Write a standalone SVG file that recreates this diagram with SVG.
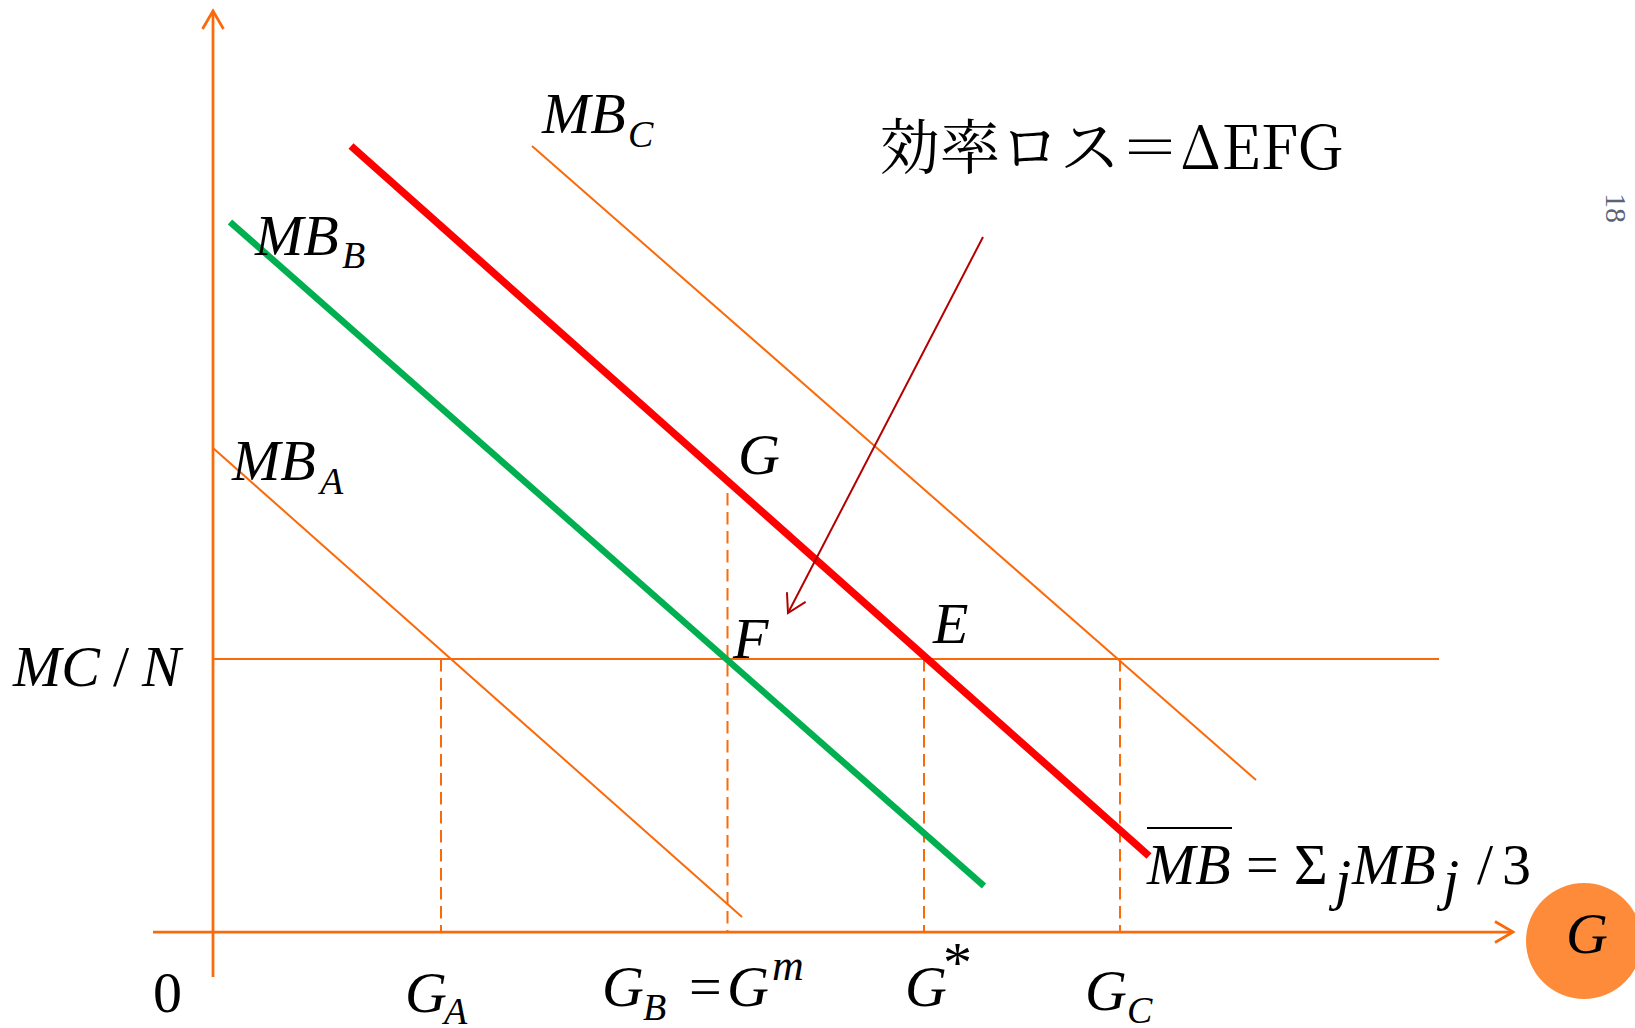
<svg xmlns="http://www.w3.org/2000/svg" width="1635" height="1028" viewBox="0 0 1635 1028">
<style>
.ax{stroke:#FA6A0A;stroke-width:2.75;fill:none}
.thin{stroke:#FA6A0A;stroke-width:2;fill:none}
.dash{stroke:#FA6A0A;stroke-width:2;stroke-dasharray:12.5 6.5;fill:none}
.m{font-family:"Liberation Serif","Times New Roman",serif;font-style:italic;font-size:58px;fill:#000}
.u{font-family:"Liberation Serif","Times New Roman",serif;font-style:normal;font-size:58px;fill:#000}
.s{font-size:38px}
.jp{font-family:"Noto Serif CJK JP","Noto Sans CJK JP",serif;font-size:60px;fill:#000}
</style>
<defs>
<marker id="oa" markerUnits="userSpaceOnUse" markerWidth="30" markerHeight="30" viewBox="-22 -15 30 30" refX="0" refY="0" orient="auto">
<path d="M-18,-10.5 L0,0 L-18,10.5" fill="none" stroke="#FA6A0A" stroke-width="2.75"/>
</marker>
<marker id="ra" markerUnits="userSpaceOnUse" markerWidth="30" markerHeight="30" viewBox="-22 -15 30 30" refX="0" refY="0" orient="auto">
<path d="M-18,-10.5 L0,0 L-18,10.5" fill="none" stroke="#B40000" stroke-width="2"/>
</marker>
</defs>
<rect width="1635" height="1028" fill="#fff"/>

<g id="connectors">
<line id="y-axis" class="ax" x1="213" y1="977" x2="213" y2="11" marker-end="url(#oa)"/>
<line id="x-axis" class="ax" x1="153" y1="932" x2="1513" y2="932" marker-end="url(#oa)"/>
<line id="mcn-line" class="thin" x1="213" y1="659" x2="1439" y2="659"/>
<line id="ga-dash" class="dash" x1="441" y1="659" x2="441" y2="932"/>
<line id="gb-dash" class="dash" x1="727.5" y1="493" x2="727.5" y2="932"/>
<line id="gs-dash" class="dash" x1="924" y1="659" x2="924" y2="932"/>
<line id="gc-dash" class="dash" x1="1120" y1="659" x2="1120" y2="932"/>
<line id="mba-line" class="thin" x1="213" y1="448" x2="742" y2="917"/>
<line id="mbc-line" class="thin" x1="532" y1="146" x2="1256" y2="780"/>
<line id="mbb-line" x1="230" y1="222" x2="984" y2="886" stroke="#00B050" stroke-width="6.5"/>
<line id="mbbar-line" x1="351" y1="146" x2="1149" y2="856" stroke="#FF0000" stroke-width="7.5"/>
<line id="loss-arrow" x1="983" y1="237" x2="788" y2="613" stroke="#B40000" stroke-width="2" marker-end="url(#ra)"/>
</g>

<g id="label-mbc"><text class="m" x="542" y="133">MB<tspan class="s" x="628" y="147">C</tspan></text></g>
<g id="label-mbb"><text class="m" x="255" y="255">MB<tspan class="s" x="342" y="268">B</tspan></text></g>
<g id="label-mba"><text class="m" x="232" y="480">MB<tspan class="s" x="320" y="494">A</tspan></text></g>
<g id="label-g-point"><text class="m" x="738" y="474">G</text></g>
<g id="label-f-point"><text class="m" x="733" y="658">F</text></g>
<g id="label-e-point"><text class="m" x="933" y="643">E</text></g>
<g id="label-mcn"><text class="m" x="13" y="686">MC</text><text class="u" x="113" y="686">/</text><text class="m" x="142" y="686">N</text></g>

<g id="label-loss">
<text class="jp" x="880" y="169">効率ロス＝ΔEFG</text>
</g>

<g id="label-zero"><text class="u" x="153" y="1012">0</text></g>
<g id="label-ga"><text class="m" x="405" y="1012">G<tspan class="s" x="444" y="1024">A</tspan></text></g>
<g id="label-gb"><text class="m" x="602" y="1006">G<tspan class="s" x="643" y="1020">B</tspan></text><text class="u" x="689" y="1006">=</text><text class="m" x="727" y="1006">G<tspan font-size="44" x="772" y="980">m</tspan></text></g>
<g id="label-gstar"><text class="m" x="905" y="1006">G</text><text class="u" x="943" y="982" font-size="40">*</text></g>
<g id="label-gc"><text class="m" x="1085" y="1010">G<tspan class="s" x="1127" y="1023">C</tspan></text></g>

<g id="label-mbbar">
<line x1="1147" y1="828" x2="1232" y2="828" stroke="#000" stroke-width="2.2"/>
<text class="m" x="1147" y="884">MB</text>
<text class="u" x="1246" y="884">=</text>
<text class="u" x="1294" y="884">Σ</text>
<text class="m" x="1335" y="899" font-size="36">j</text>
<text class="m" x="1352" y="884">MB</text>
<text class="m" x="1443" y="899" font-size="36">j</text>
<text class="u" x="1477" y="884">/</text>
<text class="u" x="1502" y="884">3</text>
</g>

<g id="node-g-circle">
<circle cx="1584" cy="941" r="58" fill="#FD8B3A"/>
<text class="m" x="1566" y="953">G</text>
</g>

<g id="page-number"><text transform="translate(1616,208) rotate(90)" x="0" y="10" text-anchor="middle" font-family="'Liberation Serif',serif" font-size="30" fill="#5A6479">18</text></g>
</svg>
